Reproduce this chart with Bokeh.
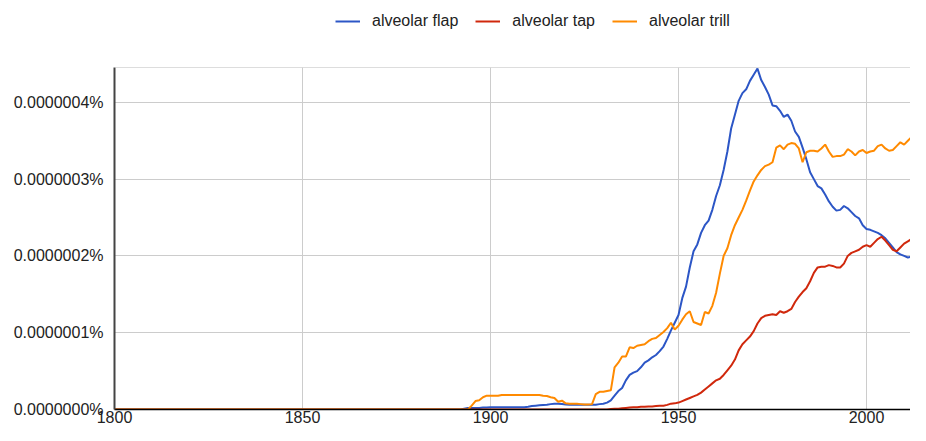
from bokeh.plotting import figure
from bokeh.models import (ColumnDataSource, FixedTicker, PrintfTickFormatter,
                          Legend, LegendItem, Span, Range1d)
from bokeh.layouts import column
from bokeh.embed import file_html
from bokeh.resources import INLINE

# ---------------- data (values in units of 1e-7 percent) ----------------
lead_years = [1800, 1850, 1890]
annual_years = list(range(1892, 2017))

flap_e7 = [0, 0, 0] + [
    0.00, 0.01, 0.02, 0.02, 0.02, 0.02, 0.025, 0.025,            # 1892-1899
    0.03, 0.03, 0.03, 0.03, 0.03, 0.03, 0.03, 0.03, 0.03, 0.03,  # 1900-1909
    0.035, 0.045, 0.05, 0.055, 0.06, 0.063, 0.07, 0.076, 0.076, 0.072,  # 1910s
    0.065, 0.063, 0.063, 0.063, 0.063, 0.063, 0.063, 0.063, 0.063, 0.07,  # 1920s
    0.076, 0.09, 0.12, 0.18, 0.24, 0.28, 0.38, 0.45, 0.48, 0.50,  # 1930s
    0.55, 0.61, 0.64, 0.68, 0.71, 0.76, 0.82, 0.92, 1.03, 1.13,   # 1940s
    1.23, 1.45, 1.60, 1.85, 2.06, 2.15, 2.30, 2.40, 2.46, 2.60,   # 1950s
    2.78, 2.92, 3.12, 3.36, 3.66, 3.84, 4.02, 4.12, 4.17, 4.28,   # 1960s
    4.36, 4.44, 4.29, 4.20, 4.10, 3.96, 3.95, 3.89, 3.81, 3.84,   # 1970s
    3.76, 3.62, 3.55, 3.41, 3.26, 3.09, 3.00, 2.91, 2.88, 2.80,   # 1980s
    2.71, 2.64, 2.59, 2.60, 2.65, 2.62, 2.57, 2.52, 2.49, 2.40,   # 1990s
    2.35, 2.34, 2.32, 2.30, 2.27, 2.23, 2.17, 2.11, 2.05, 2.02,   # 2000s
    2.00, 1.98, 1.99, 1.95, 1.94, 1.88, 1.87,                     # 2010-2016
]

tap_e7 = [0, 0, 0] + [
    0, 0, 0, 0, 0, 0, 0, 0,                                       # 1892-1899
    0, 0, 0, 0, 0, 0, 0, 0, 0, 0,                                 # 1900s
    0, 0, 0, 0, 0, 0, 0, 0, 0, 0,                                 # 1910s
    0, 0, 0, 0, 0, 0, 0, 0, 0, 0,                                 # 1920s
    0, 0, 0.005, 0.01, 0.01, 0.015, 0.02, 0.025, 0.03, 0.03,      # 1930s
    0.035, 0.035, 0.04, 0.04, 0.045, 0.05, 0.05, 0.06, 0.076, 0.08,  # 1940s
    0.09, 0.11, 0.13, 0.15, 0.17, 0.19, 0.22, 0.26, 0.30, 0.34,   # 1950s
    0.38, 0.40, 0.45, 0.51, 0.57, 0.65, 0.77, 0.85, 0.90, 0.95,   # 1960s
    1.02, 1.12, 1.19, 1.22, 1.23, 1.24, 1.23, 1.28, 1.26, 1.28,   # 1970s
    1.31, 1.40, 1.47, 1.53, 1.58, 1.67, 1.78, 1.85, 1.86, 1.86,   # 1980s
    1.88, 1.87, 1.85, 1.85, 1.90, 2.00, 2.04, 2.06, 2.08, 2.12,   # 1990s
    2.14, 2.12, 2.17, 2.22, 2.25, 2.20, 2.14, 2.08, 2.06, 2.11,   # 2000s
    2.16, 2.19, 2.22, 2.25, 2.28, 2.31, 2.21,                     # 2010-2016
]

trill_e7 = [0, 0, 0] + [
    0, 0, 0.0, 0.05, 0.11, 0.12, 0.16, 0.18,                      # 1892-1899
    0.18, 0.18, 0.18, 0.19, 0.19, 0.19, 0.19, 0.19, 0.19, 0.19,   # 1900s
    0.19, 0.19, 0.19, 0.19, 0.18, 0.175, 0.16, 0.15, 0.10, 0.115, # 1910s
    0.08, 0.075, 0.075, 0.075, 0.07, 0.065, 0.065, 0.07, 0.20, 0.23,  # 1920s
    0.23, 0.24, 0.25, 0.55, 0.61, 0.69, 0.69, 0.81, 0.80, 0.83,   # 1930s
    0.84, 0.85, 0.89, 0.92, 0.93, 0.97, 1.01, 1.06, 1.13, 1.04,   # 1940s
    1.09, 1.17, 1.24, 1.28, 1.14, 1.12, 1.10, 1.27, 1.25, 1.35,   # 1950s
    1.52, 1.77, 2.00, 2.10, 2.27, 2.40, 2.50, 2.60, 2.72, 2.85,   # 1960s
    2.97, 3.05, 3.12, 3.17, 3.19, 3.22, 3.41, 3.44, 3.39, 3.45,   # 1970s
    3.47, 3.46, 3.40, 3.22, 3.35, 3.37, 3.37, 3.36, 3.40, 3.45,   # 1980s
    3.36, 3.29, 3.30, 3.30, 3.32, 3.39, 3.36, 3.31, 3.36, 3.38,   # 1990s
    3.34, 3.36, 3.37, 3.43, 3.45, 3.40, 3.37, 3.38, 3.43, 3.48,   # 2000s
    3.45, 3.50, 3.55, 3.54, 3.52, 3.60, 3.58,                     # 2010-2016
]

series_names = ["alveolar flap", "alveolar tap", "alveolar trill"]
series_colors = ["#2c56c6", "#d0280c", "#ff8a00"]
x_ticks = [1800, 1850, 1900, 1950, 2000]
y_ticks_e7 = [0, 1, 2, 3, 4]
UNIT = 1e-7  # percent

years = lead_years + annual_years
FONT = "Liberation Sans"
W = 910
LEG_H = 60

# ---------------- legend strip (separate small figure) ----------------
lf = figure(width=W, height=LEG_H, output_backend="svg", toolbar_location=None,
            x_axis_type=None, y_axis_type=None, x_range=Range1d(0, 1), y_range=Range1d(0, 1),
            min_border=0)
lf.outline_line_color = None
lf.grid.visible = False
leg_items = []
for name, col in zip(series_names, series_colors):
    # off-range placeholder line, only used to draw the legend swatch
    dummy = lf.line(x=[5, 6], y=[5, 6], line_color=col, line_width=2)
    leg_items.append(LegendItem(label=name, renderers=[dummy]))
legend = Legend(items=leg_items, orientation="horizontal", location=(221, 30),
                label_text_font=FONT, label_text_font_size="16px",
                label_text_color="#222222", glyph_width=25, glyph_height=16,
                label_standoff=12, spacing=17, padding=0, margin=0,
                border_line_color=None, background_fill_alpha=0)
lf.add_layout(legend, "center")

# ---------------- main figure ----------------
y_top = 4.454 * UNIT
p = figure(width=W, height=425 - LEG_H, output_backend="svg", toolbar_location=None,
           x_range=Range1d(1800, 2011.7), y_range=Range1d(0, y_top),
           min_border_left=114, min_border_right=0, min_border_top=67 - LEG_H,
           min_border_bottom=10)
p.outline_line_color = None
p.background_fill_color = "white"
p.border_fill_color = "white"

for name, col, vals in zip(series_names, series_colors, [flap_e7, tap_e7, trill_e7]):
    src = ColumnDataSource(dict(x=years, y=[v * UNIT for v in vals]))
    p.line("x", "y", source=src, line_color=col, line_width=2)

p.xaxis.ticker = FixedTicker(ticks=x_ticks)
p.yaxis.ticker = FixedTicker(ticks=[t * UNIT for t in y_ticks_e7])
p.yaxis.formatter = PrintfTickFormatter(format="%.7f%%")
for ax in (p.xaxis[0], p.yaxis[0]):
    ax.major_tick_out = 0
    ax.major_tick_in = 0
    ax.minor_tick_out = 0
    ax.minor_tick_in = 0
    ax.major_label_text_font = FONT
    ax.major_label_text_font_size = "16px"
    ax.major_label_text_color = "#222222"
p.yaxis.major_label_standoff = 11
p.xaxis.major_label_standoff = 1
p.yaxis.axis_line_color = "#444444"
p.yaxis.axis_line_width = 2
p.xaxis.axis_line_color = "#000000"
p.xaxis.axis_line_width = 1.5

p.xgrid.grid_line_color = "#cccccc"
p.ygrid.grid_line_color = "#cccccc"
p.xgrid.grid_line_width = 1
p.ygrid.grid_line_width = 1
p.add_layout(Span(location=y_top, dimension="width", line_color="#bbbbbb", line_width=1))

layout = column(lf, p, spacing=0)
open("out.html", "w").write(file_html(layout, INLINE))
